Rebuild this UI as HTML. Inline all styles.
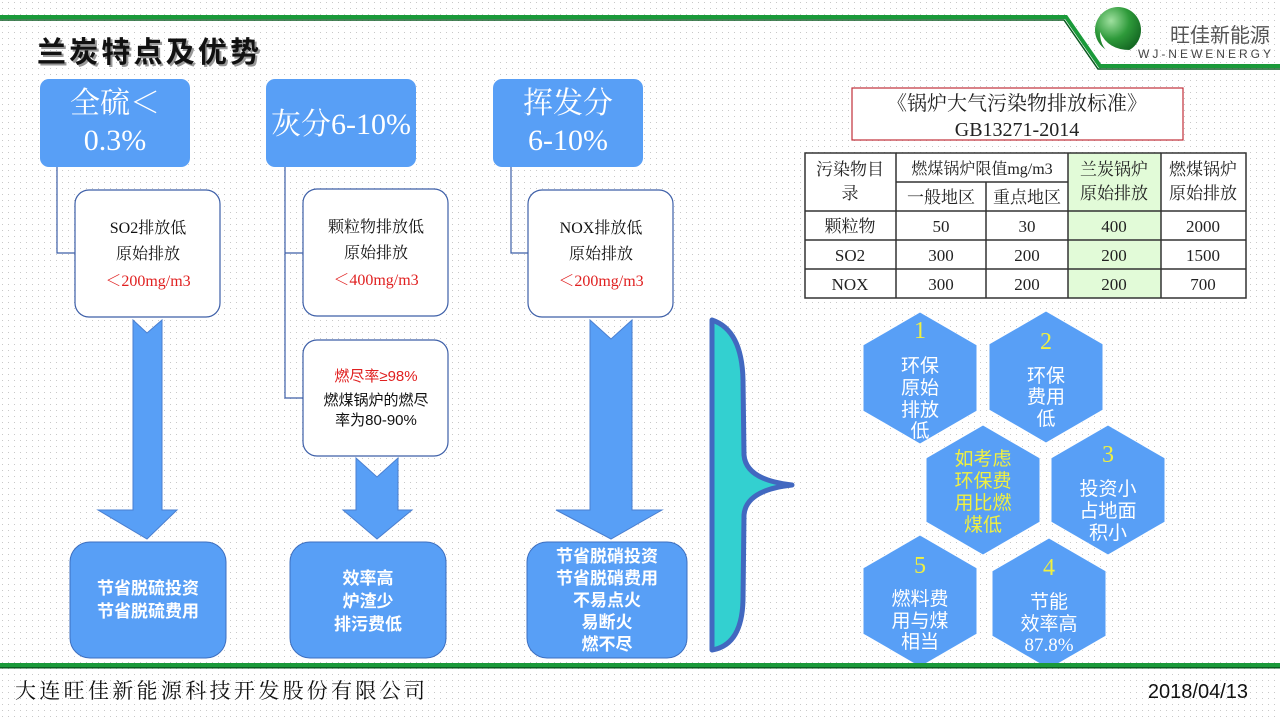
<!DOCTYPE html>
<html><head><meta charset="utf-8">
<style>
html,body{margin:0;padding:0;width:1280px;height:720px;overflow:hidden;background:#fff;}
svg{display:block}
.sf{font-family:"Liberation Serif","Noto Serif CJK SC",serif;}
.ss{font-family:"Liberation Sans","Noto Sans CJK SC",sans-serif;}
</style></head><body>
<svg width="1280" height="720" viewBox="0 0 1280 720" xmlns="http://www.w3.org/2000/svg">
<defs>
<pattern id="dots" width="6" height="6" patternUnits="userSpaceOnUse"><rect x="2" y="2" width="1" height="1" fill="#c8c8c8"/></pattern>
<radialGradient id="lg" cx="0.35" cy="0.3" r="0.8"><stop offset="0" stop-color="#9fe09f"/><stop offset="0.5" stop-color="#2e9a3a"/><stop offset="1" stop-color="#0f5e1e"/></radialGradient>
</defs>
<rect width="1280" height="720" fill="#fff"/>
<rect width="1280" height="720" fill="url(#dots)"/>

<!-- header -->
<polyline points="0,17 1066,17 1100,66 1280,66" fill="none" stroke="#1a9a3a" stroke-width="4"/>
<polyline points="0,20 1064,20 1098,69 1280,69" fill="none" stroke="#0a5a20" stroke-width="1.5"/>
<circle cx="1118" cy="30" r="23" fill="url(#lg)"/>
<path d="M1100,32 Q1108,50 1130,50 L1115,56 Q1100,50 1100,32Z" fill="#fff"/>
<text x="1170" y="42" class="ss" font-size="20" fill="#555" textLength="100">旺佳新能源</text>
<text x="1138" y="58" class="ss" font-size="12" fill="#444" textLength="133">WJ-NEWENERGY</text>
<text x="37" y="62" class="ss" font-size="29" font-weight="bold" fill="#999" textLength="222" transform="translate(2,2)">兰炭特点及优势</text>
<text x="37" y="62" class="ss" font-size="29" font-weight="bold" fill="#111" textLength="222">兰炭特点及优势</text>

<!-- connectors -->
<g fill="none" stroke="#3d5fa8" stroke-width="1.2">
<polyline points="57,166 57,253 75,253"/>
<polyline points="285,166 285,398 303,398"/>
<line x1="285" y1="253" x2="303" y2="253"/>
<polyline points="511,166 511,253 528,253"/>
</g>

<!-- top boxes -->
<g fill="#589ff6">
<rect x="40" y="79" width="150" height="88" rx="9"/>
<rect x="266" y="79" width="150" height="88" rx="9"/>
<rect x="493" y="79" width="150" height="88" rx="9"/>
</g>
<g class="sf" fill="#fff" font-size="30" text-anchor="middle">
<text x="115" y="113">全硫＜</text>
<text x="115" y="150">0.3%</text>
<text x="341" y="134">灰分6-10%</text>
<text x="568" y="113">挥发分</text>
<text x="568" y="150">6-10%</text>
</g>

<!-- white boxes -->
<g fill="#fff" stroke="#3d5fa8" stroke-width="1.2">
<rect x="75" y="190" width="145" height="127" rx="14"/>
<rect x="303" y="189" width="145" height="127" rx="14"/>
<rect x="528" y="190" width="145" height="127" rx="14"/>
<rect x="303" y="340" width="145" height="116" rx="14"/>
</g>
<g class="sf" font-size="16" text-anchor="middle" fill="#111">
<text x="148" y="233">SO2排放低</text>
<text x="148" y="259">原始排放</text>
<text x="148" y="286" fill="#e02020">＜200mg/m3</text>
<text x="376" y="232">颗粒物排放低</text>
<text x="376" y="258">原始排放</text>
<text x="376" y="285" fill="#e02020">＜400mg/m3</text>
<text x="601" y="233">NOX排放低</text>
<text x="601" y="259">原始排放</text>
<text x="601" y="286" fill="#e02020">＜200mg/m3</text>
<text x="376" y="381" fill="#e02020" class="ss" font-size="15">燃尽率≥98%</text>
<text x="376" y="405" class="ss" font-size="15">燃煤锅炉的燃尽</text>
<text x="376" y="425" class="ss" font-size="15">率为80-90%</text>
</g>

<!-- arrows -->
<g fill="#589ff6" stroke="#4a7fd0" stroke-width="1">
<path d="M133,320 L147,333 L162,320 L162,510 L177,510 L147,539 L98,510 L133,510Z" transform="translate(0,0)"/>
<path d="M356,458 L377,477 L398,458 L398,510 L412,510 L377,539 L343,510 L356,510Z"/>
<path d="M590,320 L611,339 L632,320 L632,510 L662,510 L611,539 L556,510 L590,510Z"/>
</g>

<!-- bottom boxes -->
<g fill="#589ff6" stroke="#3d6fc0" stroke-width="1">
<rect x="70" y="542" width="156" height="116" rx="20"/>
<rect x="290" y="542" width="156" height="116" rx="20"/>
<rect x="527" y="542" width="160" height="116" rx="20"/>
</g>
<g class="ss" font-size="17" font-weight="bold" fill="#fff" text-anchor="middle">
<text x="148" y="594">节省脱硫投资</text>
<text x="148" y="617">节省脱硫费用</text>
<text x="368" y="584">效率高</text>
<text x="368" y="607">炉渣少</text>
<text x="368" y="630">排污费低</text>
<text x="607" y="562">节省脱硝投资</text>
<text x="607" y="584">节省脱硝费用</text>
<text x="607" y="606">不易点火</text>
<text x="607" y="628">易断火</text>
<text x="607" y="650">燃不尽</text>
</g>

<!-- standard title -->
<rect x="852" y="88" width="331" height="52" fill="#fff" stroke="#c0303a" stroke-width="1.2"/>
<g class="sf" font-size="20" fill="#222" text-anchor="middle">
<text x="1017" y="110">《锅炉大气污染物排放标准》</text>
<text x="1017" y="136">GB13271-2014</text>
</g>

<!-- table -->
<rect x="805" y="153" width="441" height="145" fill="#fff"/>
<rect x="1068" y="153" width="93" height="145" fill="#e2fbd8"/>
<g stroke="#333" stroke-width="1.5" fill="none">
<rect x="805" y="153" width="441" height="145"/>
<line x1="805" y1="211" x2="1246" y2="211"/>
<line x1="805" y1="240" x2="1246" y2="240"/>
<line x1="805" y1="269" x2="1246" y2="269"/>
<line x1="896" y1="182" x2="1068" y2="182"/>
<line x1="896" y1="153" x2="896" y2="298"/>
<line x1="986" y1="182" x2="986" y2="298"/>
<line x1="1068" y1="153" x2="1068" y2="298"/>
<line x1="1161" y1="153" x2="1161" y2="298"/>
</g>
<g class="sf" font-size="17" fill="#222" text-anchor="middle">
<text x="850" y="175">污染物目</text>
<text x="850" y="199">录</text>
<text x="982" y="174" font-size="16">燃煤锅炉限值mg/m3</text>
<text x="941" y="203">一般地区</text>
<text x="1027" y="203">重点地区</text>
<text x="1114" y="175">兰炭锅炉</text>
<text x="1114" y="199">原始排放</text>
<text x="1203" y="175">燃煤锅炉</text>
<text x="1203" y="199">原始排放</text>
<text x="850" y="232">颗粒物</text><text x="941" y="232">50</text><text x="1027" y="232">30</text><text x="1114" y="232">400</text><text x="1203" y="232">2000</text>
<text x="850" y="261">SO2</text><text x="941" y="261">300</text><text x="1027" y="261">200</text><text x="1114" y="261">200</text><text x="1203" y="261">1500</text>
<text x="850" y="290">NOX</text><text x="941" y="290">300</text><text x="1027" y="290">200</text><text x="1114" y="290">200</text><text x="1203" y="290">700</text>
</g>

<!-- brace -->
<path d="M712,320 Q742,330 743,380 L744,455 Q746,480 792,485 Q746,490 744,515 L743,600 Q742,645 712,650 Z" fill="#33d0d0" stroke="#4268c0" stroke-width="5" stroke-linejoin="round"/>

<!-- hexagons -->
<g fill="#589ff6" stroke="#fff" stroke-width="1">
<polygon points="920,312 977,345 977,411 920,444 863,411 863,345"/>
<polygon points="1046,311 1103,344 1103,410 1046,443 989,410 989,344"/>
<polygon points="983,425 1040,458 1040,522 983,555 926,522 926,458"/>
<polygon points="1108,425 1165,458 1165,522 1108,555 1051,522 1051,458"/>
<polygon points="920,535 977,568 977,634 920,667 863,634 863,568"/>
<polygon points="1049,538 1106,571 1106,636 1049,669 992,636 992,571"/>
</g>
<g class="sf" font-size="24" fill="#f0f040" text-anchor="middle">
<text x="920" y="338">1</text>
<text x="1046" y="349">2</text>
<text x="1108" y="462">3</text>
<text x="1049" y="575">4</text>
<text x="920" y="573">5</text>
</g>
<g class="ss" font-size="19" fill="#fff" text-anchor="middle">
<text x="920" y="372">环保</text><text x="920" y="394">原始</text><text x="920" y="416">排放</text><text x="920" y="437">低</text>
<text x="1046" y="382">环保</text><text x="1046" y="403">费用</text><text x="1046" y="425">低</text>
<text x="1108" y="495">投资小</text><text x="1108" y="517">占地面</text><text x="1108" y="539">积小</text>
<text x="920" y="605">燃料费</text><text x="920" y="627">用与煤</text><text x="920" y="648">相当</text>
<text x="1049" y="608">节能</text><text x="1049" y="630">效率高</text><text x="1049" y="651" class="sf">87.8%</text>
<g fill="#f0f040"><text x="983" y="465">如考虑</text><text x="983" y="487">环保费</text><text x="983" y="509">用比燃</text><text x="983" y="531">煤低</text></g>
</g>

<!-- footer -->
<rect x="0" y="663" width="1280" height="4" fill="#1a9a3a"/>
<rect x="0" y="667" width="1280" height="1.5" fill="#0a5a20"/>
<text x="15" y="698" class="sf" font-size="21" fill="#111" textLength="410">大连旺佳新能源科技开发股份有限公司</text>
<text x="1248" y="698" class="ss" font-size="20" fill="#111" text-anchor="end">2018/04/13</text>
</svg>
</body></html>
